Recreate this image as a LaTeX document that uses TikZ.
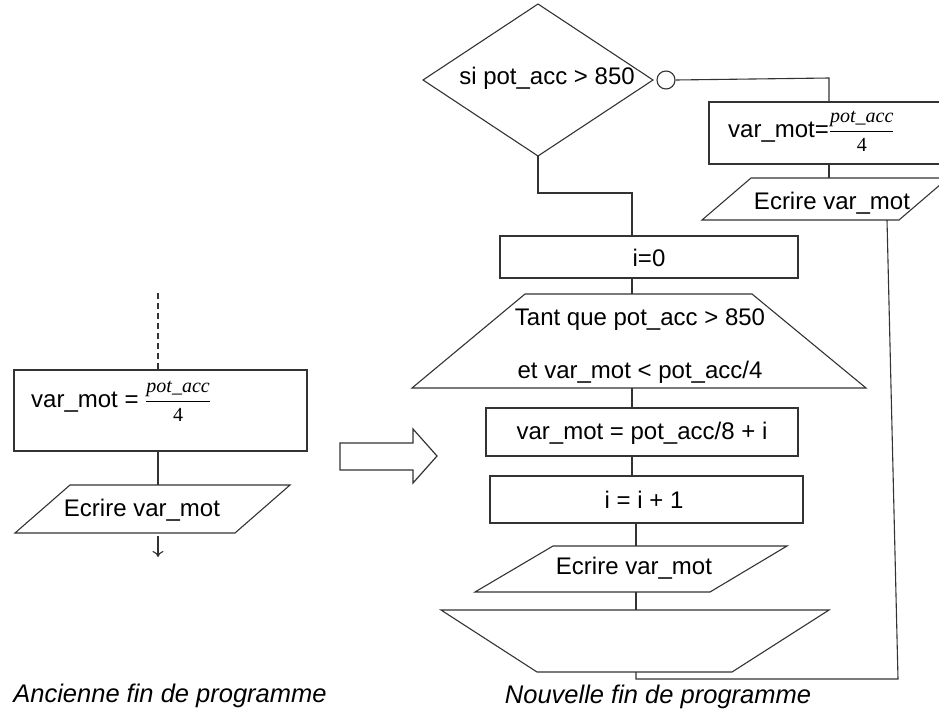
\documentclass[tikz,border=0pt]{standalone}
\usepackage{fontspec}
\setmainfont{Liberation Sans}
\newfontfamily\serifface{Liberation Serif}
\usepackage{amsmath}
\usetikzlibrary{arrows.meta}
\newcommand\txtfont{\fontsize{24}{28}\selectfont}
\newcommand\capfont{\fontsize{25.5}{30}\selectfont\itshape}
\newcommand\fracpa{{\fontsize{20}{24}\selectfont$\dfrac{\text{\serifface\itshape pot\_acc}}{\text{\serifface 4}}$}}
\begin{document}
\begin{tikzpicture}[x=1pt,y=-1pt,
  ln/.style={draw=black!80, line width=1.1pt},
  boxnode/.style={ln, rectangle, inner sep=0pt},
  lbl/.style={font=\txtfont, inner sep=0pt},
  caption/.style={font=\capfont, inner sep=0pt}]
\useasboundingbox (0,0) rectangle (939,715);

% ---------- left: old end ----------
\coordinate (dtop) at (158,293);
\node[boxnode, minimum width=293, minimum height=81] (lbox) at (160.5,410.5) {};
\node[lbl, anchor=base west] (ltxt) at (31,407) {var\_mot = \fracpa};
\draw[ln, dash pattern=on 6pt off 4pt] (dtop) -- (dtop |- lbox.north);
\coordinate (lpA) at (70,485);
\coordinate (lpB) at (290,485);
\coordinate (lpC) at (235,533);
\coordinate (lpD) at (15,533);
\draw[ln] (lpA) -- (lpB) -- (lpC) -- (lpD) -- cycle;
\node[lbl] (lptxt) at (142,510) {Ecrire var\_mot};
\coordinate (lpT) at (158,485);
\coordinate (lpBot) at (158,536);
\coordinate (lend) at (158,557);
\draw[ln] (lbox.south -| lpT) -- (lpT);
\draw[ln, -{To[length=6pt,width=11pt]}] (lpBot) -- (lend);
\node[caption] (capA) at (170,696) {Ancienne fin de programme};

% ---------- block arrow ----------
\draw[ln, line width=1.2pt] (340,443) coordinate (ba1) -- (413,443) -- (413,429) -- (437,456) coordinate (batip)
  -- (413,483) -- (413,470) -- (340,470) -- cycle;

% ---------- right: new end ----------
% decision
\coordinate (dW) at (423,80);
\coordinate (dN) at (538,4);
\coordinate (dE) at (653,80);
\coordinate (dS) at (538,156);
\draw[ln] (dW) -- (dN) -- (dE) -- (dS) -- cycle;
\node[lbl] (dtxt) at (547,78) {si pot\_acc > 850};
\node[ln, circle, minimum size=18, inner sep=0pt] (neg) at (666,80) {};

% right branch
\node[boxnode, minimum width=236, minimum height=62] (rbox) at (827,133) {};
\node[lbl, anchor=base west] (rtxt) at (728,137) {var\_mot=\fracpa};
\coordinate (rbT) at (829,102);
\draw[ln] (neg.east) -- (829,78) -- (rbT);
\coordinate (rpA) at (751,178);
\coordinate (rpB) at (948,178);
\coordinate (rpC) at (899,220);
\coordinate (rpD) at (702,220);
\draw[ln] (rpA) -- (rpB) -- (rpC) -- (rpD) -- cycle;
\node[lbl] (rptxt) at (832,203) {Ecrire var\_mot};
\coordinate (rpT) at (829,178);
\draw[ln] (rpT |- rbox.south) -- (rpT);

% main branch
\node[boxnode, minimum width=298, minimum height=42] (i0) at (649,257) {};
\node[lbl] (i0txt) at (649,258) {i=0};
\coordinate (m1) at (538,193);
\coordinate (m2) at (632,193);
\draw[ln] (dS) -- (m1) -- (m2) -- (m2 |- i0.north);

\coordinate (tA) at (525,294);
\coordinate (tB) at (752,294);
\coordinate (tC) at (866,388);
\coordinate (tD) at (412,388);
\draw[ln] (tA) -- (tB) -- (tC) -- (tD) -- cycle;
\node[lbl] (t1) at (640,320) {Tant que pot\_acc > 850};
\node[lbl] (t2) at (640,372) {et var\_mot < pot\_acc/4};
\coordinate (tT) at (632,294);
\coordinate (tBot) at (632,388);
\draw[ln] (i0.south -| tT) -- (tT);

\node[boxnode, minimum width=312, minimum height=48] (b1) at (642,432) {};
\node[lbl] (b1txt) at (642,433) {var\_mot = pot\_acc/8 + i};
\draw[ln] (tBot) -- (tBot |- b1.north);

\node[boxnode, minimum width=313, minimum height=47] (b2) at (646.5,499.5) {};
\node[lbl] (b2txt) at (644,500) {i = i + 1};
\coordinate (c1) at (632,456);
\draw[ln] (c1) -- (c1 |- b2.north);

\coordinate (pA) at (553,546);
\coordinate (pB) at (787,546);
\coordinate (pC) at (710,592);
\coordinate (pD) at (475,592);
\draw[ln] (pA) -- (pB) -- (pC) -- (pD) -- cycle;
\node[lbl] (ptxt) at (634,568) {Ecrire var\_mot};
\coordinate (pT) at (636,546);
\coordinate (pBot) at (636,592);
\draw[ln] (pT |- b2.south) -- (pT);

\coordinate (eA) at (441,610);
\coordinate (eB) at (829,610);
\coordinate (eC) at (732,672);
\coordinate (eD) at (537,672);
\draw[ln] (eA) -- (eB) -- (eC) -- (eD) -- cycle;
\coordinate (eT) at (636,610);
\coordinate (eBot) at (636,672);
\draw[ln] (pBot) -- (eT);

% return of right branch
\coordinate (rdown) at (887,220);
\coordinate (rcorner) at (898,679);
\coordinate (ecorner) at (636,679);
\draw[ln] (rdown) -- (rcorner) -- (ecorner) -- (eBot);

\node[caption] (capB) at (658,697) {Nouvelle fin de programme};
\end{tikzpicture}
\end{document}
